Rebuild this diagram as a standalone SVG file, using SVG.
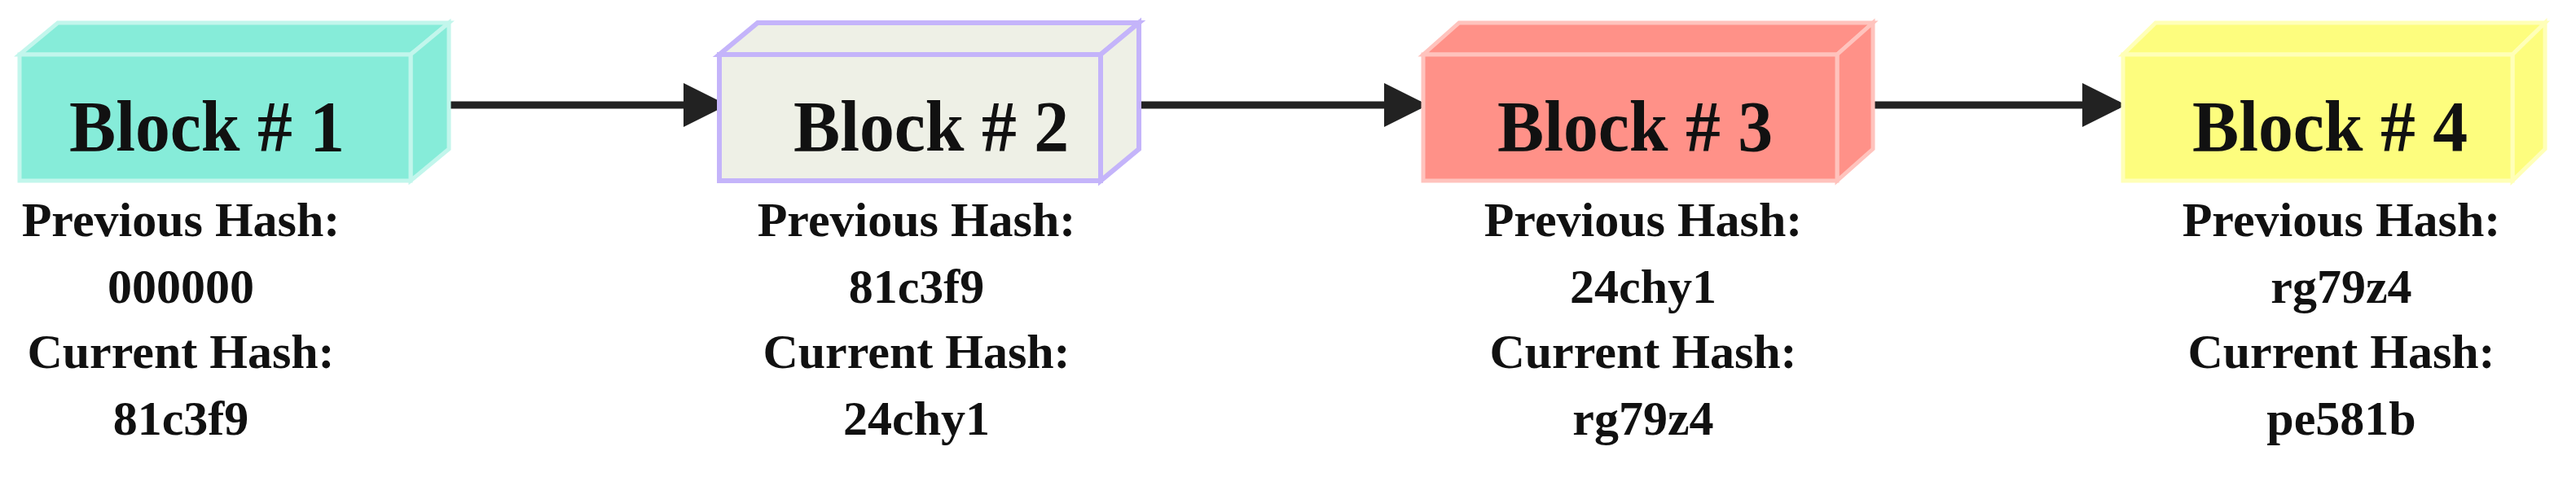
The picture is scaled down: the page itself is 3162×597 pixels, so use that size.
<svg xmlns="http://www.w3.org/2000/svg" width="3162" height="597" viewBox="0 0 3162 597">
<style>
.t{font-family:"Liberation Serif","Times New Roman",serif;font-weight:bold;fill:#111;text-anchor:middle}
.h{font-size:88px}
.s{font-size:60px}
.c1{fill:#86ecd9;stroke:#c2f6ec;stroke-width:5}
.c2{fill:#eef0e6;stroke:#c4b4fa;stroke-width:6}
.c3{fill:#ff9188;stroke:#ffc3bd;stroke-width:5}
.c4{fill:#fdfd7e;stroke:#ffffb8;stroke-width:5}
.a{stroke:#222;stroke-width:9;fill:none}
</style>
<defs><marker id="ar" markerWidth="6" markerHeight="6" refX="5" refY="3" orient="auto" markerUnits="strokeWidth"><path d="M0,0 L6,3 L0,6 z" fill="#222"/></marker></defs>
<g id="connectors">
<line class="a" x1="549" y1="129" x2="884" y2="129" marker-end="url(#ar)"/>
<line class="a" x1="1400" y1="129" x2="1744" y2="129" marker-end="url(#ar)"/>
<line class="a" x1="2300" y1="129" x2="2601" y2="129" marker-end="url(#ar)"/>
</g>
<g id="block1">
<polygon class="c1" points="24,67 71,28 551,28 504,67"/>
<polygon class="c1" points="504,67 551,28 551,183 504,222"/>
<rect class="c1" x="24" y="67" width="480" height="155"/>
<text class="t h" x="254" y="185" textLength="338" lengthAdjust="spacingAndGlyphs">Block # 1</text>
<text class="t s" x="222" y="290">Previous Hash:</text>
<text class="t s" x="222" y="372">000000</text>
<text class="t s" x="222" y="452">Current Hash:</text>
<text class="t s" x="222" y="534">81c3f9</text>
</g>
<g id="block2">
<polygon class="c2" points="883,67 930,28 1398,28 1351,67"/>
<polygon class="c2" points="1351,67 1398,28 1398,183 1351,222"/>
<rect class="c2" x="883" y="67" width="468" height="155"/>
<text class="t h" x="1143" y="185" textLength="338" lengthAdjust="spacingAndGlyphs">Block # 2</text>
<text class="t s" x="1125" y="290">Previous Hash:</text>
<text class="t s" x="1125" y="372">81c3f9</text>
<text class="t s" x="1125" y="452">Current Hash:</text>
<text class="t s" x="1125" y="534">24chy1</text>
</g>
<g id="block3">
<polygon class="c3" points="1747,67 1791,28 2299,28 2255,67"/>
<polygon class="c3" points="2255,67 2299,28 2299,183 2255,222"/>
<rect class="c3" x="1747" y="67" width="508" height="155"/>
<text class="t h" x="2007" y="185" textLength="338" lengthAdjust="spacingAndGlyphs">Block # 3</text>
<text class="t s" x="2017" y="290">Previous Hash:</text>
<text class="t s" x="2017" y="372">24chy1</text>
<text class="t s" x="2017" y="452">Current Hash:</text>
<text class="t s" x="2017" y="534">rg79z4</text>
</g>
<g id="block4">
<polygon class="c4" points="2606,67 2646,28 3124,28 3084,67"/>
<polygon class="c4" points="3084,67 3124,28 3124,183 3084,222"/>
<rect class="c4" x="2606" y="67" width="478" height="155"/>
<text class="t h" x="2860" y="185" textLength="338" lengthAdjust="spacingAndGlyphs">Block # 4</text>
<text class="t s" x="2874" y="290">Previous Hash:</text>
<text class="t s" x="2874" y="372">rg79z4</text>
<text class="t s" x="2874" y="452">Current Hash:</text>
<text class="t s" x="2874" y="534">pe581b</text>
</g>
</svg>
